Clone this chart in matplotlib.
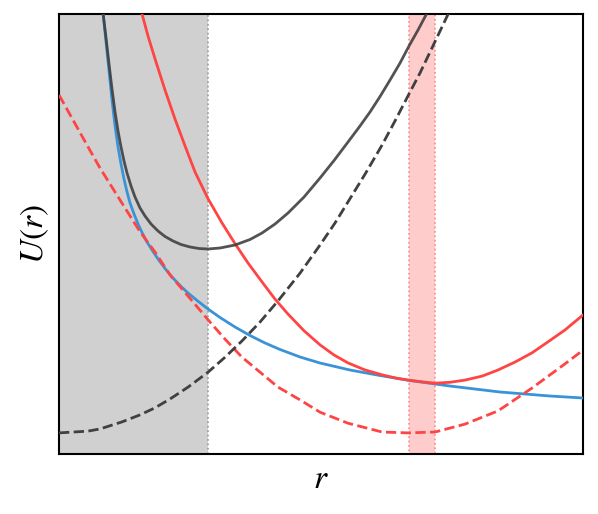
import matplotlib
matplotlib.use("Agg")
import matplotlib.pyplot as plt

plt.rcParams['mathtext.fontset'] = 'stix'

# curves (x, U) in arbitrary units, axes span 0..10
blue_x = [0.840, 0.897, 0.954, 1.011, 1.069, 1.126, 1.183, 1.240, 1.298, 1.355, 1.431, 1.508,
          1.584, 1.679, 1.775, 1.889, 2.023, 2.156, 2.309, 2.462, 2.634, 2.844, 3.073, 3.359,
          3.645, 3.931, 4.218, 4.599, 4.981, 5.553, 6.126, 6.698, 7.462, 8.416, 9.370, 10.0]
blue_y = [10.023, 9.364, 8.705, 8.045, 7.455, 6.977, 6.591, 6.250, 5.955, 5.705, 5.455, 5.227,
          5.034, 4.818, 4.636, 4.432, 4.216, 4.023, 3.830, 3.659, 3.489, 3.295, 3.102, 2.886,
          2.693, 2.523, 2.375, 2.205, 2.068, 1.909, 1.784, 1.670, 1.545, 1.409, 1.318, 1.273]

dark_x = [0.840, 0.897, 0.954, 1.011, 1.069, 1.126, 1.183, 1.240, 1.298, 1.374, 1.450, 1.546,
          1.641, 1.756, 1.889, 2.023, 2.176, 2.328, 2.500, 2.672, 2.844, 3.073, 3.359, 3.645,
          3.874, 4.122, 4.370, 4.676, 4.981, 5.248, 5.515, 5.744, 5.935, 6.126, 6.317, 6.508,
          6.679, 6.851, 7.023]
dark_y = [10.023, 9.455, 8.864, 8.295, 7.773, 7.341, 6.977, 6.659, 6.386, 6.091, 5.841, 5.591,
          5.409, 5.227, 5.068, 4.943, 4.841, 4.761, 4.705, 4.670, 4.659, 4.682, 4.750, 4.875,
          5.023, 5.227, 5.477, 5.841, 6.273, 6.670, 7.091, 7.455, 7.773, 8.125, 8.500, 8.886,
          9.273, 9.636, 10.023]

darkd_x = [0.0, 0.553, 0.782, 1.202, 1.546, 1.832, 2.118, 2.462, 2.844, 3.168, 3.492, 3.836,
           4.179, 4.599, 4.981, 5.267, 5.515, 5.840, 6.164, 6.412, 6.660, 6.889, 7.118, 7.462]
darkd_y = [0.48, 0.52, 0.57, 0.73, 0.89, 1.05, 1.25, 1.52, 1.86, 2.20, 2.57, 3.00,
           3.48, 4.11, 4.75, 5.25, 5.73, 6.36, 7.02, 7.57, 8.14, 8.66, 9.23, 10.09]

red_x = [1.584, 1.698, 1.832, 2.023, 2.214, 2.405, 2.595, 2.844, 3.111, 3.359, 3.607, 3.874,
         4.122, 4.370, 4.676, 4.981, 5.248, 5.515, 5.840, 6.164, 6.412, 6.660, 6.927, 7.176,
         7.462, 7.748, 8.073, 8.378, 8.702, 9.027, 9.332, 9.656, 10.0]
red_y = [10.00, 9.50, 8.98, 8.27, 7.61, 7.00, 6.41, 5.80, 5.25, 4.78, 4.34, 3.91,
         3.52, 3.18, 2.80, 2.48, 2.25, 2.07, 1.91, 1.80, 1.73, 1.68, 1.64, 1.61,
         1.63, 1.68, 1.77, 1.91, 2.09, 2.30, 2.55, 2.82, 3.16]

redd_x = [0.0, 0.553, 0.782, 1.202, 1.546, 1.832, 2.118, 2.462, 2.844, 3.168, 3.492, 3.836,
          4.179, 4.599, 4.981, 5.515, 6.164, 6.660, 7.176, 7.748, 8.378, 9.027, 9.656, 10.0]
redd_y = [8.16, 6.98, 6.50, 5.70, 5.05, 4.59, 4.07, 3.59, 3.05, 2.61, 2.20, 1.86,
          1.52, 1.23, 0.95, 0.70, 0.50, 0.48, 0.50, 0.68, 0.98, 1.50, 2.05, 2.36]

core_edge = 2.84
band = [6.68, 7.18]

fig = plt.figure(figsize=(5.98, 5.14), dpi=100)
ax = fig.add_axes([0.0987, 0.1167, 0.8763, 0.8561])

ax.axvspan(0, core_edge, color='#d0d0d0', lw=0, zorder=0)
ax.axvline(core_edge, color='#999999', ls=':', lw=1.2, zorder=1)
ax.axvspan(band[0], band[1], facecolor='#ffcccc', edgecolor='#ff8888', ls=':', lw=1.2, zorder=1)

kw = dict(lw=2, solid_joinstyle='round', dash_joinstyle='round')
ax.plot(blue_x, blue_y, color='#3a93d6', zorder=3, **kw)
ax.plot(redd_x, redd_y, color='#ff4444', ls='--', zorder=3, **kw)
ax.plot(red_x, red_y, color='#ff4444', zorder=3, **kw)
ax.plot(darkd_x, darkd_y, color='#404040', ls='--', zorder=3, **kw)
ax.plot(dark_x, dark_y, color='#404040', alpha=0.9, zorder=4, **kw)

ax.set_xlim(0, 10)
ax.set_ylim(0, 10)
ax.set_xticks([])
ax.set_yticks([])
for s in ax.spines.values():
    s.set_linewidth(1.5)

ax.set_xlabel('$r$', fontsize=24, labelpad=6)
ax.set_ylabel('$U(r)$', fontsize=24, labelpad=6)

plt.savefig('out.png', dpi=100)
